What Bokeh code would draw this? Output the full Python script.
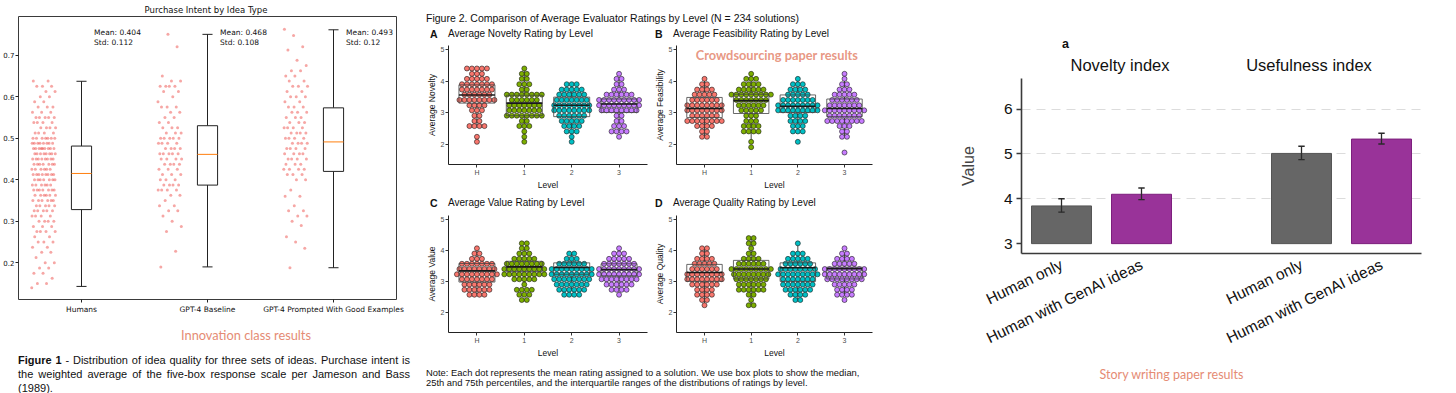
import math
from bokeh.plotting import figure
from bokeh.models import Range1d, FixedTicker, Label, Div, ColumnDataSource
from bokeh.layouts import row, column
from bokeh.embed import file_html
from bokeh.resources import INLINE
from bokeh.core.properties import value

SANS = "Liberation Sans"
MPL = "DejaVu Sans"
ACCENT = "#E58B74"
ACCENT_FONT = "Lato"

# ---------------- Figure 1 data: purchase intent ----------------
pi_title = "Purchase Intent by Idea Type"
pi_groups = ["Humans", "GPT-4 Baseline", "GPT-4 Prompted With Good Examples"]
pi_means = [0.404, 0.468, 0.493]
pi_stds = [0.112, 0.108, 0.12]
pi_whisk_lo = [0.143, 0.190, 0.188]
pi_q1 = [0.328, 0.387, 0.420]
pi_median = [0.415, 0.461, 0.491]
pi_q3 = [0.481, 0.530, 0.573]
pi_whisk_hi = [0.637, 0.750, 0.761]

humans_vals = [0.140, 0.150, 0.1625, 0.175, 0.1875, 0.200, 0.2125, 0.225, 0.2375, 0.250,
               0.2625, 0.275, 0.2875, 0.300, 0.3125, 0.325, 0.3375, 0.350, 0.3625, 0.375,
               0.3875, 0.400, 0.4125, 0.425, 0.4375, 0.450, 0.4625, 0.475, 0.4875, 0.500,
               0.5125, 0.525, 0.5375, 0.550, 0.5625, 0.575, 0.5875, 0.600, 0.6125, 0.625, 0.6375]
humans_cnts = [1, 2, 1, 2, 2, 2, 1, 2, 2, 3,
               2, 4, 3, 4, 4, 5, 5, 6, 6, 7,
               6, 7, 8, 6, 7, 8, 8, 9, 8, 7,
               4, 4, 4, 5, 3, 3, 2, 2, 2, 3, 2]
baseline_vals = [0.190, 0.2275, 0.275, 0.2875, 0.300, 0.3125, 0.325, 0.3375, 0.350, 0.3625,
                 0.375, 0.3875, 0.400, 0.4125, 0.425, 0.4375, 0.450, 0.4625, 0.475, 0.4875,
                 0.500, 0.5125, 0.525, 0.5375, 0.550, 0.5625, 0.575, 0.5875, 0.600, 0.6125,
                 0.625, 0.6375, 0.650, 0.720, 0.750]
baseline_cnts = [1, 1, 1, 1, 1, 1, 2, 2, 1, 2,
                 4, 4, 3, 3, 3, 4, 4, 5, 4, 4,
                 5, 3, 3, 2, 2, 2, 3, 1, 1, 2,
                 4, 2, 1, 1, 1]
prompted_vals = [0.188, 0.235, 0.250, 0.2625, 0.290, 0.300, 0.3125, 0.325, 0.3375, 0.360,
                 0.375, 0.400, 0.4125, 0.425, 0.4375, 0.450, 0.4625, 0.475, 0.4875, 0.500,
                 0.5125, 0.525, 0.5375, 0.550, 0.5625, 0.575, 0.5875, 0.600, 0.6125, 0.625,
                 0.6375, 0.650, 0.6625, 0.675, 0.6875, 0.7125, 0.720, 0.7475, 0.762]
prompted_cnts = [1, 1, 1, 1, 1, 1, 2, 2, 1, 2,
                 1, 2, 3, 4, 3, 4, 4, 4, 4, 4,
                 4, 4, 3, 3, 3, 3, 2, 3, 2, 3,
                 2, 2, 2, 1, 1, 1, 1, 1, 1]
pi_y_ticks = [0.2, 0.3, 0.4, 0.5, 0.6, 0.7]

# ---------------- Figure 2 data: ratings by level ----------------
lvl_labels = ["H", "1", "2", "3"]
lvl_colors = ["#F8766D", "#7CAE00", "#00BFC4", "#C77CFF"]
rating_bins = [4.40, 4.23, 4.07, 3.90, 3.73, 3.57, 3.40, 3.23, 3.07, 2.90, 2.73, 2.57, 2.40, 2.23, 2.07, 1.90, 1.73]
rating_ticks = [2, 3, 4, 5]

novelty_counts_H = [5, 3, 5, 7, 7, 6, 8, 4, 3, 2, 2, 4, 0, 1, 1, 0, 0]
novelty_counts_1 = [1, 2, 2, 3, 2, 8, 6, 7, 7, 8, 2, 3, 1, 1, 1, 0, 0]
novelty_counts_2 = [0, 0, 0, 3, 5, 6, 7, 8, 8, 6, 5, 4, 3, 1, 1, 0, 0]
novelty_counts_3 = [0, 1, 2, 2, 3, 6, 9, 9, 8, 2, 2, 3, 4, 1, 0, 0, 0]
novelty_q1 = [3.30, 2.90, 2.87, 3.00]
novelty_median = [3.56, 3.30, 3.23, 3.27]
novelty_q3 = [3.88, 3.55, 3.49, 3.43]

feasibility_counts_H = [0, 0, 1, 2, 4, 5, 6, 8, 8, 6, 8, 4, 2, 2, 0, 0, 0]
feasibility_counts_1 = [0, 1, 3, 4, 6, 9, 7, 6, 5, 3, 3, 4, 4, 0, 1, 1, 0]
feasibility_counts_2 = [0, 0, 1, 3, 4, 5, 7, 9, 9, 4, 4, 3, 3, 0, 1, 0, 0]
feasibility_counts_3 = [0, 1, 1, 2, 3, 5, 6, 7, 9, 7, 8, 3, 2, 2, 0, 0, 1]
feasibility_q1 = [2.84, 2.97, 3.00, 2.87]
feasibility_median = [3.13, 3.38, 3.20, 3.13]
feasibility_q3 = [3.48, 3.58, 3.56, 3.43]

value_counts_H = [0, 0, 1, 2, 3, 7, 8, 9, 7, 6, 6, 4, 0, 0, 0, 0, 0]
value_counts_1 = [0, 2, 2, 3, 5, 8, 9, 9, 5, 1, 4, 3, 2, 0, 0, 0, 0]
value_counts_2 = [0, 0, 0, 2, 3, 6, 9, 9, 8, 7, 6, 4, 0, 0, 0, 0, 0]
value_counts_3 = [0, 0, 1, 3, 5, 7, 9, 9, 8, 6, 4, 1, 0, 0, 0, 0, 0]
value_q1 = [2.98, 3.32, 3.23, 3.18]
value_median = [3.34, 3.47, 3.45, 3.38]
value_q3 = [3.58, 3.65, 3.60, 3.57]

quality_counts_H = [0, 0, 2, 2, 4, 5, 6, 8, 8, 6, 4, 4, 2, 1, 0, 0, 0]
quality_counts_1 = [2, 2, 1, 2, 4, 6, 9, 8, 7, 6, 6, 2, 1, 2, 0, 0, 0]
quality_counts_2 = [0, 1, 0, 3, 5, 6, 8, 9, 7, 7, 6, 4, 2, 0, 0, 0, 0]
quality_counts_3 = [0, 0, 1, 2, 4, 5, 9, 9, 8, 5, 4, 4, 1, 0, 0, 0, 0]
quality_q1 = [3.00, 3.08, 3.00, 3.08]
quality_median = [3.29, 3.40, 3.44, 3.41]
quality_q3 = [3.55, 3.68, 3.60, 3.46]

# ---------------- Figure 3 data: story writing ----------------
bar_panel_letter = "a"
bar_groups = ["Novelty index", "Usefulness index"]
bar_conditions = ["Human only", "Human with GenAI ideas"]
bar_values = [3.84, 4.10, 5.01, 5.33]
bar_err_lo = [3.70, 3.98, 4.87, 5.22]
bar_err_hi = [4.00, 4.24, 5.17, 5.46]
bar_ticks = [3, 4, 5, 6]
BAR_BASE = 3
cond_fill = ["#666666", "#993399"]
cond_line = ["#555555", "#7d1f7d"]


def base_fig(width, height, xr, yr, mb):
    p = figure(width=width, height=height, x_range=Range1d(*xr), y_range=Range1d(*yr),
               output_backend="svg", toolbar_location=None, tools="",
               min_border_left=mb[0], min_border_right=mb[1],
               min_border_top=mb[2], min_border_bottom=mb[3])
    try:
        p.title = None
    except Exception:
        p.title.text = ""
    p.background_fill_color = "white"
    p.border_fill_color = "white"
    p.xgrid.visible = False
    p.ygrid.visible = False
    for ax in (p.xaxis, p.yaxis):
        ax.minor_tick_line_color = None
        ax.axis_label_text_font_style = "normal"
    return p


def div(html, width, height):
    return Div(text=html, width=width, height=height, margin=0,
               styles={"overflow": "hidden", "background": "white"})


# ================= Figure 1 =================
W1, H1 = 412, 301
MB1 = (16, 16, 1, 15)
X1, Y1 = (0.5, 3.5), (0.1115, 0.793)
p1 = base_fig(W1, H1, X1, Y1, MB1)
fh1 = H1 - MB1[2] - MB1[3]
ppu1 = fh1 / (Y1[1] - Y1[0])
p1.outline_line_color = "#3a3a3a"
p1.outline_line_width = 1
p1.outline_line_alpha = 1
for ax in (p1.xaxis, p1.yaxis):
    ax.axis_line_color = None
    ax.major_tick_line_color = "#222222"
    ax.major_tick_out = 3
    ax.major_tick_in = 0
    ax.major_label_standoff = 1
    ax.major_label_text_font = MPL
    ax.major_label_text_font_size = "7px"
    ax.major_label_text_color = "#111111"
p1.xaxis.major_label_standoff = 2
p1.xaxis.major_label_text_font_size = "7.5px"
p1.xaxis.ticker = FixedTicker(ticks=[1, 2, 3])
p1.xaxis.major_label_overrides = {i + 1: g for i, g in enumerate(pi_groups)}
p1.yaxis.ticker = FixedTicker(ticks=pi_y_ticks)

SCATTER_OFFSET = -0.3
SCATTER_SPREAD = 0.19
pts_x, pts_y = [], []
for gi, (vals, cnts) in enumerate([(humans_vals, humans_cnts), (baseline_vals, baseline_cnts),
                                   (prompted_vals, prompted_cnts)]):
    k = 0
    for v, c in zip(vals, cnts):
        for _ in range(c):
            frac = (k * 0.6180339887498949 + 0.13 * gi) % 1.0
            pts_x.append(gi + 1 + SCATTER_OFFSET + (frac - 0.5) * SCATTER_SPREAD)
            pts_y.append(v)
            k += 1
p1.scatter(pts_x, pts_y, size=3.0, fill_color="#e8231f", fill_alpha=0.4, line_color=None)

pos = [i + 1 for i in range(len(pi_groups))]
BW, CW = 0.16, 0.08
box_src = ColumnDataSource(dict(
    x=pos, left=[p - BW / 2 for p in pos], right=[p + BW / 2 for p in pos],
    cl=[p - CW / 2 for p in pos], cr=[p + CW / 2 for p in pos],
    lo=pi_whisk_lo, q1=pi_q1, med=pi_median, q3=pi_q3, hi=pi_whisk_hi))
p1.segment(x0="x", y0="q3", x1="x", y1="hi", source=box_src, line_color="#222222", line_width=1)
p1.segment(x0="x", y0="lo", x1="x", y1="q1", source=box_src, line_color="#222222", line_width=1)
p1.segment(x0="cl", y0="hi", x1="cr", y1="hi", source=box_src, line_color="#222222", line_width=1)
p1.segment(x0="cl", y0="lo", x1="cr", y1="lo", source=box_src, line_color="#222222", line_width=1)
p1.quad(left="left", right="right", bottom="q1", top="q3", source=box_src,
        fill_color="white", line_color="#222222", line_width=1)
p1.segment(x0="left", y0="med", x1="right", y1="med", source=box_src, line_color="#ff7f0e", line_width=1)

ann_src = ColumnDataSource(dict(
    x=[p + 0.1 for p in pos],
    ym=[Y1[1] - 16 / ppu1] * 3, ys=[Y1[1] - 26 / ppu1] * 3,
    tm=[f"Mean: {m}" for m in pi_means], ts=[f"Std: {s}" for s in pi_stds]))
p1.text(x="x", y="ym", text="tm", source=ann_src, text_font=value(MPL), text_font_size="7.5px",
        text_baseline="middle", text_align="left", text_color="#111111")
p1.text(x="x", y="ys", text="ts", source=ann_src, text_font=value(MPL), text_font_size="7.5px",
        text_baseline="middle", text_align="left", text_color="#111111")

div_title1 = div(
    f"<div style=\"margin-left:16px;width:380px;text-align:center;padding-top:4px;line-height:12px;"
    f"font-family:'{MPL}';font-size:8.5px;color:#111;\">{pi_title}</div>", 412, 15)

# ================= Figure 2 =================
X2, Y2 = (0.4, 4.6), (1.35, 5.13)
DOT_PX = 5.0


def dotplot(ylabel, counts_list, q1s, meds, q3s, width, height, mb):
    p = base_fig(width, height, X2, Y2, mb)
    fw = width - mb[0] - mb[1]
    fh = height - mb[2] - mb[3]
    pux = fw / (X2[1] - X2[0])
    puy = fh / (Y2[1] - Y2[0])
    dw = DOT_PX / pux
    p.outline_line_color = None
    for ax in (p.xaxis, p.yaxis):
        ax.axis_line_color = "#222222"
        ax.axis_line_width = 1
        ax.major_tick_line_color = "#333333"
        ax.major_tick_out = 3
        ax.major_tick_in = 0
        ax.major_label_standoff = 1
        ax.major_label_text_font = SANS
        ax.major_label_text_font_size = "7px"
        ax.major_label_text_color = "#4d4d4d"
        ax.axis_label_text_font = SANS
        ax.axis_label_text_font_size = "8.5px"
        ax.axis_label_text_color = "#111111"
        ax.axis_label_standoff = 1
    p.xaxis.ticker = FixedTicker(ticks=[1, 2, 3, 4])
    p.xaxis.major_label_overrides = {i + 1: l for i, l in enumerate(lvl_labels)}
    p.yaxis.ticker = FixedTicker(ticks=rating_ticks)
    p.xaxis.axis_label = "Level"
    p.yaxis.axis_label = ylabel

    bw = 0.76
    bx = [i + 1 for i in range(4)]
    lo_w, hi_w = [], []
    for counts, q1, q3 in zip(counts_list, q1s, q3s):
        present = [b for b, n in zip(rating_bins, counts) if n > 0]
        iqr = q3 - q1
        hi_w.append(max(v for v in present if v <= q3 + 1.5 * iqr))
        lo_w.append(min(v for v in present if v >= q1 - 1.5 * iqr))
    bsrc = ColumnDataSource(dict(x=bx, left=[x - bw / 2 for x in bx], right=[x + bw / 2 for x in bx],
                                 q1=q1s, med=meds, q3=q3s, lo=lo_w, hi=hi_w))
    p.quad(left="left", right="right", bottom="q1", top="q3", source=bsrc,
           fill_color="white", line_color=None)
    p.segment(x0="x", y0="q3", x1="x", y1="hi", source=bsrc, line_color="#333333", line_width=0.9)
    p.segment(x0="x", y0="lo", x1="x", y1="q1", source=bsrc, line_color="#333333", line_width=0.9)

    xs, ys, cs = [], [], []
    for li, counts in enumerate(counts_list):
        for b, n in zip(rating_bins, counts):
            for k in range(n):
                xs.append(li + 1 + (k - (n - 1) / 2) * dw)
                ys.append(b)
                cs.append(lvl_colors[li])
    p.scatter(xs, ys, size=DOT_PX, fill_color=cs, line_color="#1a1a1a", line_width=0.6)

    p.quad(left="left", right="right", bottom="q1", top="q3", source=bsrc,
           fill_color=None, line_color="#444444", line_width=0.8)
    p.segment(x0="left", y0="med", x1="right", y1="med", source=bsrc, line_color="#1a1a1a", line_width=1.6)
    return p, pux, puy


MBA = (36, 4, 4, 23)
MBB = (22, 3, 4, 23)
MBC = (36, 4, 5, 22)
MBD = (22, 3, 5, 22)
pA, _, _ = dotplot("Average Novelty",
                   [novelty_counts_H, novelty_counts_1, novelty_counts_2, novelty_counts_3],
                   novelty_q1, novelty_median, novelty_q3, 239, 151, MBA)
pB, puxB, puyB = dotplot("Average Feasibility",
                         [feasibility_counts_H, feasibility_counts_1, feasibility_counts_2, feasibility_counts_3],
                         feasibility_q1, feasibility_median, feasibility_q3, 224, 151, MBB)
pC, _, _ = dotplot("Average Value",
                   [value_counts_H, value_counts_1, value_counts_2, value_counts_3],
                   value_q1, value_median, value_q3, 239, 150, MBC)
pD, _, _ = dotplot("Average Quality",
                   [quality_counts_H, quality_counts_1, quality_counts_2, quality_counts_3],
                   quality_q1, quality_median, quality_q3, 224, 150, MBD)
pB.add_layout(Label(x=X2[0] + 102 / puxB, y=Y2[1] - 10 / puyB, text="Crowdsourcing paper results",
                    text_font=ACCENT_FONT, text_font_size="12.8px", text_font_style="bold",
                    text_align="center", text_baseline="middle", text_color=ACCENT, text_alpha=0.9))


def panel_titles(pairs, height, pad_top):
    parts = []
    for (letter, title), (lx, tx) in zip(pairs, [(18, 36), (243, 261)]):
        parts.append(
            f"<div style=\"position:absolute;left:{lx}px;top:{pad_top}px;line-height:12px;"
            f"font-family:'{SANS}';font-size:10.5px;font-weight:bold;color:#111;\">{letter}</div>"
            f"<div style=\"position:absolute;left:{tx}px;top:{pad_top}px;line-height:12px;white-space:nowrap;"
            f"font-family:'{SANS}';font-size:10px;color:#111;\">{title}</div>")
    return div(f"<div style=\"position:relative;width:525px;height:{height}px;\">{''.join(parts)}</div>",
               525, height)


div_tAB = panel_titles([("A", "Average Novelty Rating by Level"),
                        ("B", "Average Feasibility Rating by Level")], 15, 2)
div_tCD = panel_titles([("C", "Average Value Rating by Level"),
                        ("D", "Average Quality Rating by Level")], 18, 5)

div_title2 = div(
    f"<div style=\"margin-left:14px;white-space:nowrap;padding-top:12px;line-height:12px;font-family:'{SANS}';"
    f"font-size:10.5px;color:#111;\">Figure 2. Comparison of Average Evaluator Ratings by Level (N = 234 solutions)</div>",
    525, 26)
div_note = div(
    f"<div style=\"margin-left:14px;white-space:nowrap;padding-top:8px;line-height:10px;font-family:'{SANS}';"
    f"font-size:9.4px;color:#111;\">Note: Each dot represents the mean rating assigned to a solution. "
    f"We use box plots to show the median,<br>25th and 75th percentiles, and the interquartile ranges "
    f"of the distributions of ratings by level.</div>",
    525, 33)

# ================= Figure 3 =================
W3, H3 = 519, 282
MB3 = (84, 35, 4, 100)
X3, Y3 = (0.5, 5.5), (2.78, 6.68)
p3 = base_fig(W3, H3, X3, Y3, MB3)
p3.outline_line_color = None
bx3, fills3, lines3, labels3 = [], [], [], {}
for g in range(len(bar_groups)):
    for c in range(len(bar_conditions)):
        xv = g * 3 + c + 1
        bx3.append(xv)
        fills3.append(cond_fill[c])
        lines3.append(cond_line[c])
        labels3[xv] = bar_conditions[c]
p3.ygrid.visible = True
p3.ygrid.ticker = FixedTicker(ticks=bar_ticks[1:])
p3.ygrid.grid_line_color = "#dcdcdc"
p3.ygrid.grid_line_dash = "9 6"
p3.ygrid.grid_line_width = 1
bsrc3 = ColumnDataSource(dict(x=bx3, top=bar_values, lo=bar_err_lo, hi=bar_err_hi,
                              fill=fills3, line=lines3,
                              cl=[x - 0.04 for x in bx3], cr=[x + 0.04 for x in bx3]))
p3.vbar(x="x", bottom=BAR_BASE, top="top", width=0.75, source=bsrc3,
        fill_color="fill", line_color="line", line_width=1)
p3.segment(x0="x", y0="lo", x1="x", y1="hi", source=bsrc3, line_color="#2a2a2a", line_width=1.3)
p3.segment(x0="cl", y0="hi", x1="cr", y1="hi", source=bsrc3, line_color="#2a2a2a", line_width=1.3)
p3.segment(x0="cl", y0="lo", x1="cr", y1="lo", source=bsrc3, line_color="#2a2a2a", line_width=1.3)
for ax in (p3.xaxis, p3.yaxis):
    ax.axis_line_color = "#3a3a3a"
    ax.axis_line_width = 1.6
    ax.major_label_text_font = SANS
    ax.major_label_text_color = "#111111"
p3.yaxis.ticker = FixedTicker(ticks=bar_ticks)
p3.yaxis.major_tick_out = 5
p3.yaxis.major_tick_in = 0
p3.yaxis.major_tick_line_color = "#3a3a3a"
p3.yaxis.major_tick_line_width = 1.3
p3.yaxis.major_label_standoff = 4
p3.yaxis.major_label_text_font_size = "15.5px"
p3.yaxis.axis_label = "Value"
p3.yaxis.axis_label_text_font = SANS
p3.yaxis.axis_label_text_font_size = "16px"
p3.yaxis.axis_label_standoff = 24
p3.xaxis.ticker = FixedTicker(ticks=bx3)
p3.xaxis.major_label_overrides = labels3
p3.xaxis.major_label_orientation = math.radians(26)
p3.xaxis.major_tick_line_color = None
p3.xaxis.major_label_standoff = 4
p3.xaxis.major_label_text_font_size = "15.5px"

div_head3 = div(
    f"<div style=\"position:relative;width:519px;height:74px;font-family:'{SANS}';color:#111;\">"
    f"<div style=\"position:absolute;left:125px;top:36px;line-height:16px;font-size:12.5px;font-weight:bold;\">{bar_panel_letter}</div>"
    f"<div style=\"position:absolute;left:83px;width:200px;text-align:center;top:55px;line-height:20px;font-size:16.5px;\">{bar_groups[0]}</div>"
    f"<div style=\"position:absolute;left:272px;width:200px;text-align:center;top:55px;line-height:20px;font-size:16.5px;\">{bar_groups[1]}</div>"
    f"</div>", 519, 74)
div_story = div(
    f"<div style=\"width:469px;text-align:center;padding-top:12px;line-height:14px;"
    f"font-family:'{ACCENT_FONT}';font-size:12.5px;color:{ACCENT};\">Story writing paper results</div>",
    519, 37)

# ================= captions, column 1 =================
div_innov = div(
    f"<div style=\"margin-left:80px;width:332px;text-align:center;padding-top:12px;line-height:14px;"
    f"font-family:'{ACCENT_FONT}';font-size:12.8px;color:{ACCENT};\">Innovation class results</div>",
    412, 32)
line_style = "text-align:justify;text-align-last:justify;"
div_cap1 = div(
    f"<div style=\"margin-left:18px;width:392px;padding-top:5px;line-height:14px;font-family:'{SANS}';"
    f"font-size:11px;color:#111;\">"
    f"<div style='{line_style}'><b>Figure 1</b> - Distribution of idea quality for three sets of ideas. Purchase intent is</div>"
    f"<div style='{line_style}'>the weighted average of the five-box response scale per Jameson and Bass</div>"
    f"<div>(1989).</div></div>",
    412, 45)

col1 = column(div_title1, p1, div_innov, div_cap1, spacing=0)
col2 = column(div_title2, div_tAB, row(pA, pB, spacing=0), div_tCD, row(pC, pD, spacing=0), div_note, spacing=0)
col3 = column(div_head3, p3, div_story, spacing=0)
layout = row(col1, col2, col3, spacing=0)

open("out.html", "w").write(file_html(layout, INLINE))
